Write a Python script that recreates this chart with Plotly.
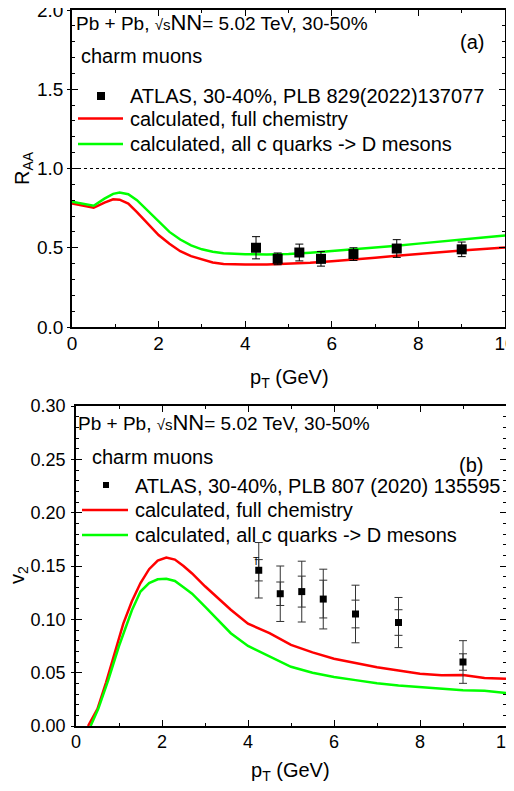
import plotly.graph_objects as go

# page is 514x791; the browser body keeps its default 8px margin
PAGE_W, PAGE_H, M = 514, 791, 8
W, H = PAGE_W - 2 * M, PAGE_H - 2 * M

# ---------------- data: panel (a) R_AA ----------------
raa_pt = [4.25, 4.75, 5.25, 5.75, 6.5, 7.5, 9.0]
raa_val = [0.50, 0.43, 0.47, 0.43, 0.46, 0.495, 0.49]
raa_err = [0.07, 0.037, 0.053, 0.046, 0.04, 0.056, 0.046]

raa_full_pt = [0, 0.25, 0.5, 0.75, 0.95, 1.1, 1.3, 1.5, 1.75, 2.0, 2.25, 2.5, 2.75, 3.0,
               3.25, 3.5, 3.75, 4.0, 4.5, 5.0, 5.5, 6.0, 6.5, 7.0, 7.5, 8.0, 8.5, 9.0, 9.5, 10.0]
raa_full = [0.78, 0.767, 0.752, 0.785, 0.806, 0.803, 0.779, 0.725, 0.65, 0.58, 0.525, 0.478,
            0.447, 0.425, 0.407, 0.398, 0.395, 0.394, 0.394, 0.398, 0.405, 0.415, 0.425,
            0.437, 0.450, 0.462, 0.472, 0.482, 0.492, 0.501]
raa_dmes_pt = [0, 0.25, 0.5, 0.75, 0.95, 1.1, 1.3, 1.5, 1.75, 2.0, 2.25, 2.5, 2.75, 3.0,
               3.25, 3.5, 3.75, 4.0, 4.5, 5.0, 5.5, 6.0, 6.5, 7.0, 7.5, 8.0, 8.5, 9.0, 9.5, 10.0]
raa_dmes = [0.79, 0.778, 0.765, 0.81, 0.84, 0.848, 0.838, 0.80, 0.735, 0.665, 0.60, 0.552,
            0.515, 0.49, 0.475, 0.466, 0.462, 0.459, 0.458, 0.460, 0.468, 0.478, 0.488,
            0.498, 0.512, 0.526, 0.540, 0.553, 0.565, 0.577]

# ---------------- data: panel (b) v2 ----------------
v2_pt = [4.25, 4.75, 5.25, 5.75, 6.5, 7.5, 9.0]
v2_val = [0.146, 0.124, 0.126, 0.119, 0.105, 0.097, 0.060]
v2_stat = [0.010, 0.011, 0.0145, 0.0177, 0.013, 0.012, 0.0077]
v2_sys = [0.026, 0.026, 0.0285, 0.028, 0.027, 0.0235, 0.020]

v2_full_pt = [0.28, 0.4, 0.5, 0.7, 0.9, 1.1, 1.3, 1.5, 1.7, 1.9, 2.1, 2.3, 2.5, 2.7, 3.0,
              3.3, 3.6, 4.0, 4.5, 5.0, 5.5, 6.0, 6.5, 7.0, 7.5, 8.0, 8.5, 9.0, 9.5, 10.0]
v2_full = [0.0, 0.009, 0.016, 0.041, 0.068, 0.096, 0.117, 0.134, 0.147, 0.155, 0.158, 0.156,
           0.150, 0.143, 0.131, 0.120, 0.109, 0.096, 0.087, 0.076, 0.069, 0.063, 0.059,
           0.055, 0.052, 0.049, 0.0475, 0.0478, 0.045, 0.0444]
v2_dmes_pt = [0.34, 0.45, 0.52, 0.75, 1.0, 1.3, 1.5, 1.7, 1.9, 2.1, 2.3, 2.5, 2.7, 3.0, 3.3,
              3.6, 4.0, 4.5, 5.0, 5.5, 6.0, 6.5, 7.0, 7.5, 8.0, 8.5, 9.0, 9.5, 10.0]
v2_dmes = [0.0, 0.010, 0.0163, 0.043, 0.075, 0.1085, 0.126, 0.134, 0.1375, 0.138, 0.136,
           0.130, 0.124, 0.112, 0.099, 0.087, 0.075, 0.065, 0.0555, 0.050, 0.046, 0.043,
           0.040, 0.038, 0.0365, 0.035, 0.0335, 0.033, 0.031]

legend_a = ["ATLAS, 30-40%, PLB 829(2022)137077", "calculated, full chemistry",
            "calculated, all c quarks -> D mesons"]
legend_b = ["ATLAS, 30-40%, PLB 807 (2020) 135595", "calculated, full chemistry",
            "calculated, all c quarks -> D mesons"]

RED = "#ff0000"
GREEN = "#00ff00"
FONT = "Liberation Sans, Arial, sans-serif"


def px(x):
    return (x - M) / W


def py(y):
    return 1 - (y - M) / H


fig = go.Figure()

fig.add_trace(go.Scatter(x=raa_full_pt, y=raa_full, mode="lines", line=dict(color=RED, width=2.5),
                         xaxis="x", yaxis="y", showlegend=False))
fig.add_trace(go.Scatter(x=raa_dmes_pt, y=raa_dmes, mode="lines", line=dict(color=GREEN, width=2.5),
                         xaxis="x", yaxis="y", showlegend=False))
fig.add_trace(go.Scatter(x=raa_pt, y=raa_val, mode="markers",
                         marker=dict(symbol="square", size=10, color="black"),
                         error_y=dict(type="data", array=raa_err, color="black", thickness=1, width=4),
                         xaxis="x", yaxis="y", showlegend=False))

fig.add_trace(go.Scatter(x=v2_full_pt, y=v2_full, mode="lines", line=dict(color=RED, width=2.5),
                         xaxis="x2", yaxis="y2", showlegend=False))
fig.add_trace(go.Scatter(x=v2_dmes_pt, y=v2_dmes, mode="lines", line=dict(color=GREEN, width=2.5),
                         xaxis="x2", yaxis="y2", showlegend=False))
fig.add_trace(go.Scatter(x=v2_pt, y=v2_val, mode="markers", marker=dict(size=1, color="rgba(0,0,0,0)"),
                         error_y=dict(type="data", array=v2_sys, color="#333333", thickness=1, width=4),
                         xaxis="x2", yaxis="y2", showlegend=False))
fig.add_trace(go.Scatter(x=v2_pt, y=v2_val, mode="markers",
                         marker=dict(symbol="square", size=7, color="black"),
                         error_y=dict(type="data", array=v2_stat, color="#333333", thickness=1, width=4),
                         xaxis="x2", yaxis="y2", showlegend=False))
# invisible traces to activate the overlay axes carrying outward major ticks
fig.add_trace(go.Scatter(x=[None], y=[None], xaxis="x", yaxis="y3", showlegend=False, hoverinfo="skip"))
fig.add_trace(go.Scatter(x=[None], y=[None], xaxis="x2", yaxis="y4", showlegend=False, hoverinfo="skip"))

axis_common = dict(showline=True, linecolor="black", linewidth=1.5, mirror="ticks",
                   ticks="inside", tickcolor="black", showgrid=False, zeroline=False,
                   ticklabeloverflow="allow", automargin=False)

xa_dom = [px(72), px(505)]
ya_dom = [py(327), py(10)]
xb_dom = [px(76), px(506)]
yb_dom = [py(726), py(406)]

tf_a = dict(family=FONT, size=19, color="black")
tf_b = dict(family=FONT, size=18, color="black")

fig.update_layout(
    width=W, height=H, margin=dict(l=0, r=0, t=0, b=0, autoexpand=False),
    paper_bgcolor="white", plot_bgcolor="white", showlegend=False,
    font=dict(family=FONT, color="black"),
    xaxis=dict(domain=xa_dom, anchor="y", range=[0, 10], dtick=2, ticklen=6, tickfont=tf_a,
               minor=dict(ticks="inside", ticklen=3, dtick=1, tickcolor="black"),
               ticklabelstandoff=-2, **axis_common),
    yaxis=dict(domain=ya_dom, anchor="x", range=[0, 2], dtick=0.5, tickformat=".1f", ticklen=6,
               tickfont=tf_a,
               minor=dict(ticks="inside", ticklen=3, dtick=0.1, tickcolor="black"),
               ticklabelstandoff=3, **axis_common),
    yaxis3=dict(overlaying="y", anchor="x", range=[0, 2], dtick=0.5, ticks="outside", ticklen=4,
                tickcolor="black", showticklabels=False, showgrid=False, zeroline=False,
                showline=False, mirror="ticks"),
    xaxis2=dict(domain=xb_dom, anchor="y2", range=[0, 10], dtick=2, ticklen=6, tickfont=tf_b,
                minor=dict(ticks="inside", ticklen=3, dtick=1, tickcolor="black"),
                ticklabelstandoff=-1, **axis_common),
    yaxis2=dict(domain=yb_dom, anchor="x2", range=[0, 0.3], dtick=0.05, tickformat=".2f", ticklen=6,
                tickfont=tf_b,
                minor=dict(ticks="inside", ticklen=3, dtick=0.01, tickcolor="black"),
                ticklabelstandoff=5, **axis_common),
    yaxis4=dict(overlaying="y2", anchor="x2", range=[0, 0.3], dtick=0.05, ticks="outside", ticklen=4,
                tickcolor="black", showticklabels=False, showgrid=False, zeroline=False,
                showline=False, mirror="ticks"),
)

# dotted reference line at R_AA = 1
fig.add_shape(type="line", xref="x", yref="y", x0=0, x1=10, y0=1, y1=1,
              line=dict(color="black", width=1, dash="dot"))

anns = []


def txt(x, y, s, size=20, anchor="left"):
    anns.append(dict(x=px(x), y=py(y), xref="paper", yref="paper", text=s, showarrow=False,
                     xanchor=anchor, yanchor="middle", borderpad=0,
                     font=dict(family=FONT, size=size, color="black")))


header = ("Pb + Pb, <span style='font-size:15px'>√s</span>"
          "<span style='font-size:22px'>NN</span>= 5.02 TeV, 30-50%")

# panel (a) texts and legend keys
txt(75, 22, header, 19)
txt(472, 42, "(a)", 20, "center")
txt(80, 56, "charm muons", 20)
txt(129, 96, legend_a[0], 20)
txt(129, 119, legend_a[1], 20)
txt(129, 144, legend_a[2], 20)
fig.add_shape(type="rect", xref="paper", yref="paper", x0=px(97), x1=px(105), y0=py(100), y1=py(92),
              fillcolor="black", line=dict(width=0))
fig.add_shape(type="line", xref="paper", yref="paper", x0=px(78), x1=px(123), y0=py(118.5), y1=py(118.5),
              line=dict(color=RED, width=2.5))
fig.add_shape(type="line", xref="paper", yref="paper", x0=px(78), x1=px(123), y0=py(144), y1=py(144),
              line=dict(color=GREEN, width=2.5))

# panel (b) texts and legend keys
txt(77, 422, header, 19)
txt(471, 465, "(b)", 20, "center")
txt(91, 457, "charm muons", 20)
txt(134, 486, legend_b[0], 20)
txt(134, 510, legend_b[1], 20)
txt(134, 535, legend_b[2], 20)
txt(256, 561, "T", 10, "center")
fig.add_shape(type="rect", xref="paper", yref="paper", x0=px(103), x1=px(109), y0=py(488), y1=py(482),
              fillcolor="black", line=dict(width=0))
fig.add_shape(type="line", xref="paper", yref="paper", x0=px(82), x1=px(128), y0=py(510), y1=py(510),
              line=dict(color=RED, width=2.5))
fig.add_shape(type="line", xref="paper", yref="paper", x0=px(82), x1=px(128), y0=py(535), y1=py(535),
              line=dict(color=GREEN, width=2.5))

# axis titles
txt(289, 378, "p<sub>T</sub> (GeV)", 20, "center")
txt(290, 771, "p<sub>T</sub> (GeV)", 20, "center")
anns.append(dict(x=px(24), y=py(168), xref="paper", yref="paper", text="R<sub>AA</sub>", showarrow=False,
                 textangle=-90, xanchor="center", yanchor="middle", borderpad=0,
                 font=dict(family=FONT, size=20, color="black")))
anns.append(dict(x=px(18), y=py(575), xref="paper", yref="paper", text="v<sub>2</sub>", showarrow=False,
                 textangle=-90, xanchor="center", yanchor="middle", borderpad=0,
                 font=dict(family=FONT, size=20, color="black")))

fig.update_layout(annotations=anns)

fig.write_html("out.html", config={"displayModeBar": False})
